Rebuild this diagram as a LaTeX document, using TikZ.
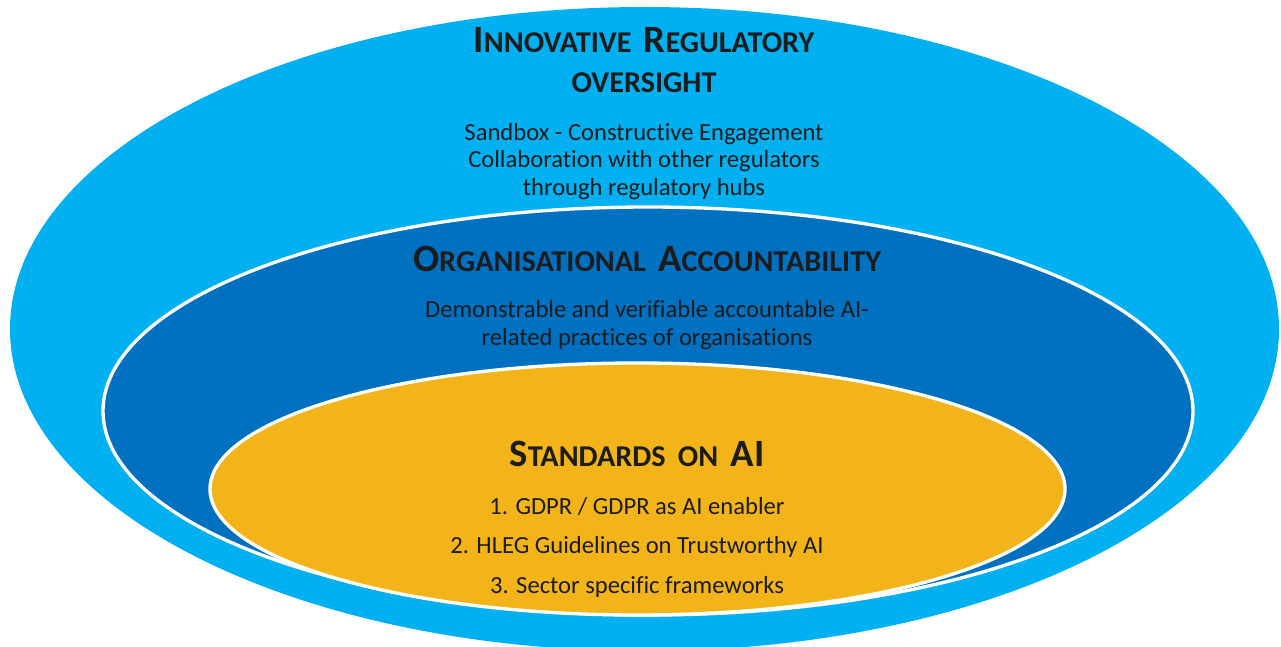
\documentclass[tikz,border=0pt]{standalone}
\usepackage{fontspec}
\setmainfont{Carlito}[RawFeature={-liga;-clig;-calt;-dlig;-rlig}]
\usepackage{tikz}
\usetikzlibrary{positioning}
\definecolor{mlight}{HTML}{00B0F0}
\definecolor{mdark}{HTML}{0070C0}
\definecolor{mgold}{HTML}{F2B418}
\definecolor{mtext}{HTML}{1C1C1C}
\newcommand{\capword}[2]{{\fontsize{22}{26}\selectfont #1}{\fontsize{17.2}{20}\selectfont #2}}
\newcommand{\capgap}{\hspace{7pt}}

\begin{document}
\begin{tikzpicture}
    \useasboundingbox (0, 0) rectangle (25.62, 12.92);

    \fill [mlight] (12.89, 6.34) ellipse [x radius=12.69, y radius=6.44];
    \draw [white, line width=1.9pt, fill=mdark] (12.96, 4.70) ellipse [x radius=10.90, y radius=4.08];
    \draw [white, line width=1.9pt, fill=mgold] (12.75, 3.14) ellipse [x radius=8.55, y radius=2.52];

    \tikzset{head/.style={mtext, font=\bfseries, anchor=base, inner sep=0pt},
             body/.style={mtext, font=\fontsize{14}{15.6}\selectfont, anchor=base, align=center, inner sep=0pt}}

    % outer ring
    \node [head] (oversight) at (12.88, 11.86) {\capword{I}{NNOVATIVE}\capgap\capword{R}{EGULATORY}};
    \node [head] (oversight2) at (12.88, 11.06) {\capword{}{OVERSIGHT}};
    \node [body] (sandbox) at (12.88, 9.02) {Sandbox - Constructive Engagement\\Collaboration with other regulators\\through regulatory hubs};

    % middle ring
    \node [head] (account) at (12.94, 7.50) {\capword{O}{RGANISATIONAL}\capgap\capword{A}{CCOUNTABILITY}};
    \node [body] (practices) at (12.94, 6.02) {Demonstrable and verifiable accountable AI-\\related practices of organisations};

    % inner ring
    \node [head] (standards) at (12.74, 3.60) {\capword{S}{TANDARDS}\capgap\capword{}{ON}\capgap\capword{AI}{}};
    \node [body] (gdpr) at (12.74, 2.64) {1. GDPR / GDPR as AI enabler};
    \node [body] (hleg) at (12.74, 1.86) {2. HLEG Guidelines on Trustworthy AI};
    \node [body] (sector) at (12.74, 1.06) {3. Sector specific frameworks};
\end{tikzpicture}
\end{document}
